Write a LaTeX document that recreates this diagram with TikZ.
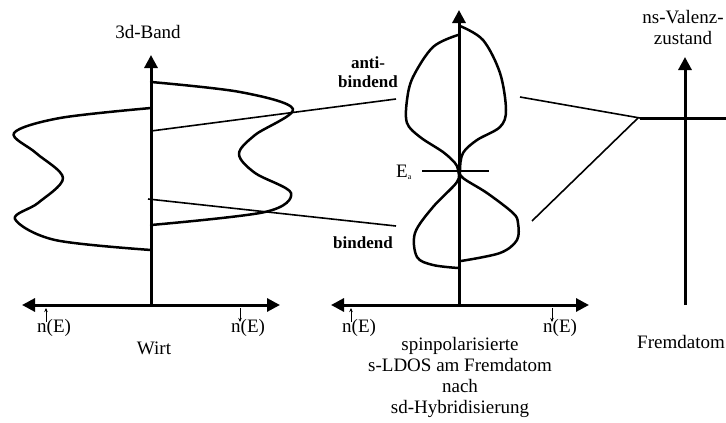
\documentclass[tikz,border=0pt]{standalone}
\usepackage{fontspec}
\setmainfont{Liberation Serif}
\usetikzlibrary{arrows.meta}
\tikzset{
  axis/.style={line width=3pt, -{Triangle[length=13pt,width=13pt]}},
  axisboth/.style={line width=3pt, {Triangle[length=13pt,width=13pt]}-{Triangle[length=13pt,width=13pt]}},
  dos/.style={line width=2.5pt, line join=round, line cap=round},
  link/.style={line width=1.6pt},
  level/.style={line width=3pt},
  spin/.style={line width=0.8pt, -{Stealth[length=4pt,width=3.5pt]}},
  lbl/.style={font=\fontsize{19}{21}\selectfont, inner sep=0pt, align=center},
  blbl/.style={font=\fontsize{17}{19}\selectfont\bfseries, inner sep=0pt, align=center}
}

\begin{document}
\begin{tikzpicture}[x=1pt, y=-1pt]
\useasboundingbox (0,0) rectangle (726,423);

%% Wirt: 3d-Band
\node[lbl, anchor=base] (band) at (148,38) {3d-Band};
\coordinate (o1) at (151,305);
\draw[axis] (o1) -- (151,55);
\draw[axisboth] (22,305) -- (280,305);
\draw[dos] plot[smooth, tension=0.55] coordinates {(151,108) (60,118) (14,133) (36,153) (63,178) (38,203) (15,219) (55,240) (151,250)};
\draw[dos] plot[smooth, tension=0.55] coordinates {(151,82) (240,92) (293,109) (255,135) (239,154) (255,173) (291,193) (265,212) (151,225)};
\node[lbl, anchor=base west] (nu1) at (37,332) {n(E)};
\node[lbl, anchor=base west] (nd1) at (231,332) {n(E)};
\draw[spin] ([shift={(9,-10)}]nu1.base west) -- ++(0,-14);
\draw[spin] ([shift={(9,-24)}]nd1.base west) -- ++(0,14);
\node[lbl, anchor=base] (wirt) at (154,354) {Wirt};

%% s-LDOS am Fremdatom
\coordinate (o2) at (459,305);
\draw[axis] (o2) -- (459,10);
\draw[axisboth] (331,305) -- (589,305);
\draw[dos] plot[smooth, tension=0.55] coordinates {(458,35) (433,47) (413,77) (407,100) (407,123) (420,137) (443,152) (455,163) (458,170) (457,182) (433,207) (415,233) (417,257) (433,265) (458,268)};
\draw[dos] plot[smooth, tension=0.55] coordinates {(460,26) (483,40) (500,73) (506,110) (500,127) (477,140) (463,153) (460,170) (463,178) (487,193) (513,213) (518,223) (517,240) (500,253) (461,261)};
\coordinate (ea1) at (422,171);
\coordinate (ea2) at (489,171);
\draw[link] (ea1) -- (ea2);
\node[lbl, anchor=base west] (ea) at (396,177) {E\raisebox{-2pt}{\fontsize{8}{8}\selectfont a}};
\node[blbl, anchor=base] (anti) at (368,87) {anti-\\bindend};
\node[blbl, anchor=base] (bind) at (363,248) {bindend};
\node[lbl, anchor=base west] (nu2) at (342,332) {n(E)};
\node[lbl, anchor=base west] (nd2) at (543,332) {n(E)};
\draw[spin] ([shift={(9,-10)}]nu2.base west) -- ++(0,-14);
\draw[spin] ([shift={(9,-24)}]nd2.base west) -- ++(0,14);
\node[lbl, anchor=base] (ldos) at (460,413) {spinpolarisierte\\s-LDOS am Fremdatom\\nach\\sd-Hybridisierung};

%% Fremdatom: ns-Valenzzustand
\node[lbl, anchor=base] (ns) at (683,45) {ns-Valenz-\\zustand};
\coordinate (o3) at (685,305);
\draw[axis] (o3) -- (685,57);
\coordinate (ns1) at (640,118);
\coordinate (ns2) at (726,118);
\draw[level] (ns1) -- (ns2);
\node[lbl, anchor=base] (fremd) at (681,348) {Fremdatom};

%% Hybridisierung
\coordinate (w1) at (151,131);
\coordinate (w2) at (148,199);
\coordinate (a1) at (396,99);
\coordinate (b1) at (396,226);
\coordinate (a2) at (520,97);
\coordinate (b2) at (532,221);
\draw[link] (w1) -- (a1);
\draw[link] (w2) -- (b1);
\draw[link] (a2) -- (ns1);
\draw[link] (b2) -- ([xshift=-2pt]ns1);

\end{tikzpicture}
\end{document}
